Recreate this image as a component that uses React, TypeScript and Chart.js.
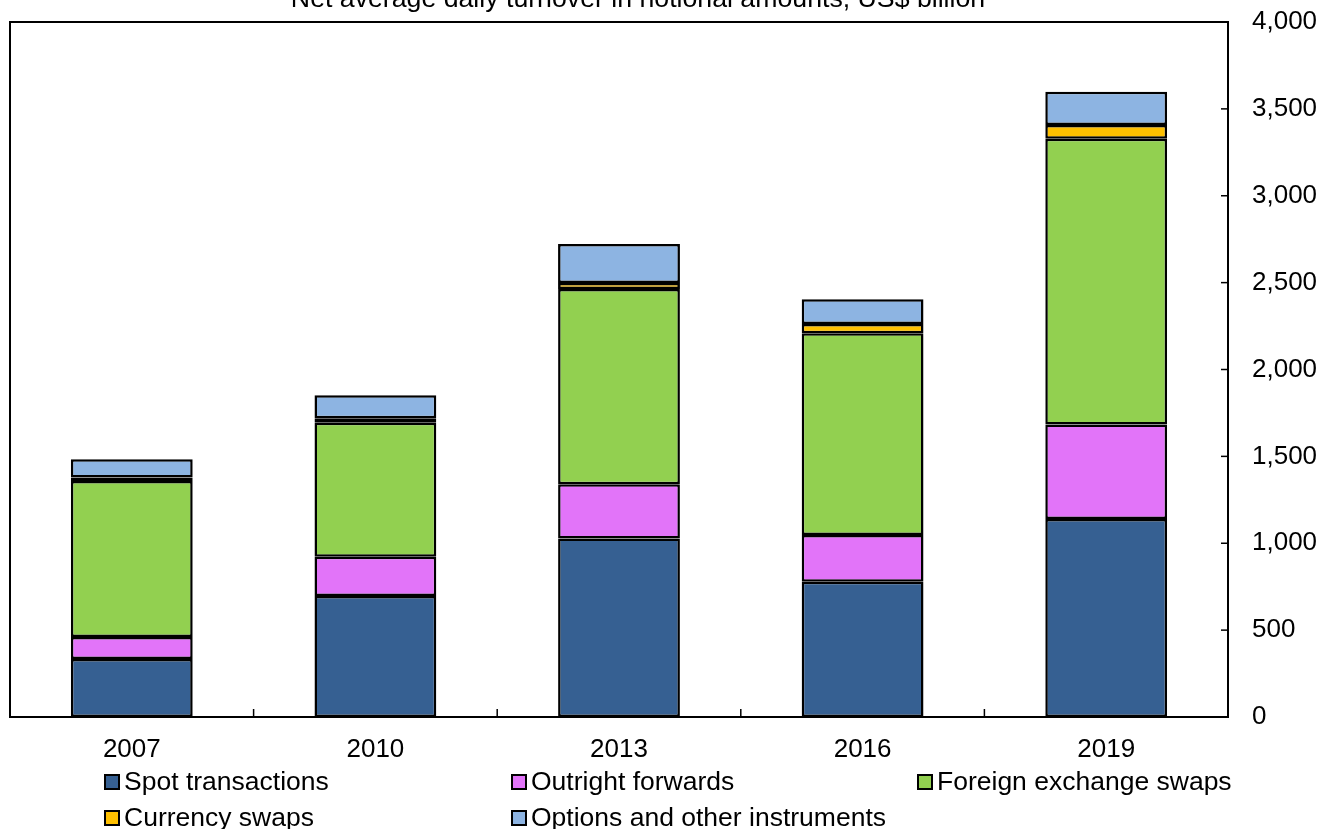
import React, { useEffect, useRef } from "react";
import { Chart, registerables } from "chart.js";

Chart.register(...registerables);

// Net average daily FX turnover by instrument, US$ billion
const years = ["2007", "2010", "2013", "2016", "2019"];
const spotTransactions = [334, 696, 1028, 779, 1140];
const outrightForwards = [126, 227, 311, 268, 544];
const fxSwaps = [898, 771, 1124, 1161, 1644];
const currencySwaps = [20, 25, 35, 54, 79];
const optionsOther = [105, 133, 224, 142, 192];
const yTicks = [0, 500, 1000, 1500, 2000, 2500, 3000, 3500, 4000];

const titleText = "Net average daily turnover in notional amounts, US$ billion";
const FONT = "Liberation Sans, Arial, sans-serif";
const FONT_SIZE = 26;
const LEGEND_FONT_SIZE = 26.5;
const TITLE_FONT_SIZE = 26.7;

const seriesDefs = [
  { label: "Spot transactions", data: spotTransactions, color: "#366092" },
  { label: "Outright forwards", data: outrightForwards, color: "#E274F9" },
  { label: "Foreign exchange swaps", data: fxSwaps, color: "#92D050" },
  { label: "Currency swaps", data: currencySwaps, color: "#FFC000" },
  { label: "Options and other instruments", data: optionsOther, color: "#8DB4E2" },
];

// legend grid: column x of each swatch, row centre y
const legendCols = [105, 512, 918];
const legendRows = [782, 818];

const decorPlugin = {
  id: "decor",
  afterDraw(chart: any) {
    const { ctx, chartArea } = chart;
    const { left, right, top, bottom } = chartArea;
    const y = chart.scales.y;
    ctx.save();
    ctx.strokeStyle = "#000";
    ctx.lineWidth = 2;
    // frame: left and top edges
    ctx.beginPath();
    ctx.moveTo(left, bottom);
    ctx.lineTo(left, top);
    ctx.lineTo(right, top);
    ctx.stroke();
    // inward ticks on category boundaries
    ctx.lineWidth = 1.5;
    const n = years.length;
    for (let i = 1; i < n; i++) {
      const px = left + ((right - left) * i) / n;
      ctx.beginPath();
      ctx.moveTo(px, bottom);
      ctx.lineTo(px, bottom - 8);
      ctx.stroke();
    }
    // inward ticks on value axis
    for (const v of yTicks) {
      const py = y.getPixelForValue(v);
      ctx.beginPath();
      ctx.moveTo(right - 7, py);
      ctx.lineTo(right, py);
      ctx.stroke();
    }
    // title
    ctx.fillStyle = "#000";
    ctx.font = `${TITLE_FONT_SIZE}px ${FONT}`;
    ctx.textAlign = "center";
    ctx.textBaseline = "alphabetic";
    ctx.fillText(titleText, 638, 7);
    // legend
    ctx.font = `${LEGEND_FONT_SIZE}px ${FONT}`;
    ctx.textAlign = "left";
    ctx.textBaseline = "middle";
    seriesDefs.forEach((s, i) => {
      const bx = legendCols[i % 3];
      const cy = legendRows[Math.floor(i / 3)];
      ctx.fillStyle = s.color;
      ctx.fillRect(bx, cy - 7, 14, 14);
      ctx.lineWidth = 2;
      ctx.strokeStyle = "#000";
      ctx.strokeRect(bx, cy - 7, 14, 14);
      ctx.fillStyle = "#000";
      ctx.fillText(s.label, bx + 19, cy + 1);
    });
    ctx.restore();
  },
};

export default function App() {
  const ref = useRef<HTMLCanvasElement | null>(null);
  useEffect(() => {
    if (!ref.current) return;
    const chart = new Chart(ref.current, {
      type: "bar",
      data: {
        labels: years,
        datasets: seriesDefs.map((s) => ({
          label: s.label,
          data: s.data,
          backgroundColor: s.color,
          borderColor: "#000",
          borderWidth: 2.5,
          borderSkipped: false,
          categoryPercentage: 1,
          barPercentage: 0.5,
        })),
      },
      options: {
        animation: false,
        responsive: false,
        devicePixelRatio: 1,
        layout: { padding: { left: 10, top: 22, right: 0, bottom: 0 } },
        plugins: {
          legend: { display: false },
          title: { display: false },
          tooltip: { enabled: false },
        },
        scales: {
          x: {
            stacked: true,
            offset: true,
            grid: { display: false, drawTicks: false },
            border: { display: true, color: "#000", width: 2 },
            ticks: {
              color: "#000",
              font: { family: FONT, size: FONT_SIZE },
              padding: 17,
              maxRotation: 0,
            },
            afterFit(scale: any) {
              scale.height = 112;
              scale.paddingLeft = 0;
              scale.paddingRight = 0;
            },
          },
          y: {
            stacked: true,
            position: "right",
            min: 0,
            max: 4000,
            afterBuildTicks(scale: any) {
              scale.ticks = yTicks.map((v) => ({ value: v }));
            },
            grid: { display: false, drawTicks: false },
            border: { display: true, color: "#000", width: 2 },
            ticks: {
              color: "#000",
              font: { family: FONT, size: FONT_SIZE },
              padding: 24,
              callback: (v: any) => Number(v).toLocaleString("en-US"),
            },
            afterFit(scale: any) {
              scale.width = 93;
              scale.paddingTop = 0;
              scale.paddingBottom = 0;
            },
          },
        },
      },
      plugins: [decorPlugin],
    });
    return () => chart.destroy();
  }, []);
  return (
    <div style={{ position: "fixed", left: 0, top: 0, width: 1321, height: 829, background: "#fff" }}>
      <canvas ref={ref} width={1321} height={829} style={{ width: 1321, height: 829, display: "block" }} />
    </div>
  );
}
